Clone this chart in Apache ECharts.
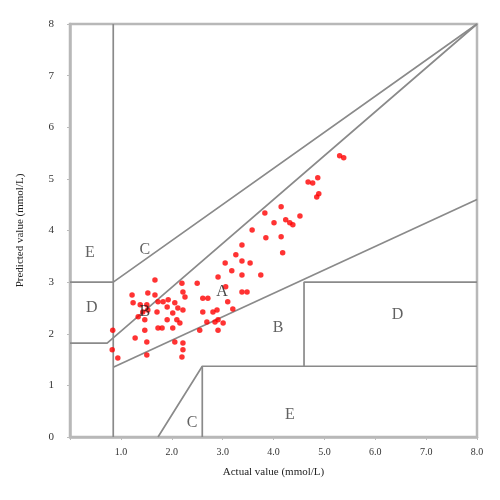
<!DOCTYPE html>
<html>
<head>
<meta charset="utf-8">
<script src="https://cdn.jsdelivr.net/npm/echarts@6/dist/echarts.min.js"></script>
<style>html,body{margin:0;padding:0;background:#fff}#c{width:500px;height:500px}</style>
</head>
<body>
<div id="c"></div>
<script>
// Measured values (mmol/L)
const actual = [5.30,5.38,4.68,4.77,4.87,4.85,4.89,3.83,4.15,4.01,4.24,4.32,4.38,4.52,3.58,3.85,4.15,4.18,3.38,3.26,3.38,3.54,3.05,3.18,3.38,3.75,2.91,3.06,3.38,3.48,3.10,3.20,2.89,2.91,3.01,2.91,2.20,2.50,2.22,2.26,1.83,1.93,2.06,1.91,2.12,2.22,2.02,1.91,2.10,2.16,2.02,1.81,2.61,2.71,2.61,2.81,2.69,2.85,2.55,2.06,2.22,2.22,2.20,1.67,1.22,1.53,1.67,1.24,1.38,1.51,1.73,1.43,1.53,1.71,1.34,1.47,1.73,1.47,0.84,1.28,1.51,0.83,0.94,1.51];
const predicted = [5.45,5.41,4.94,4.92,5.02,4.65,4.71,4.34,4.46,4.15,4.21,4.15,4.11,4.28,4.01,3.86,3.88,3.57,3.72,3.53,3.41,3.37,3.37,3.22,3.14,3.14,3.10,2.91,2.81,2.81,2.62,2.48,2.46,2.27,2.21,2.07,2.98,2.98,2.81,2.71,2.62,2.66,2.60,2.52,2.50,2.46,2.40,2.27,2.27,2.21,2.11,2.11,2.69,2.69,2.42,2.42,2.23,2.23,2.07,1.84,1.82,1.69,1.55,3.04,2.75,2.79,2.75,2.60,2.56,2.56,2.62,2.42,2.46,2.42,2.33,2.27,2.11,2.07,2.07,1.92,1.84,1.69,1.53,1.59];

// Zone boundary polylines (x, y pairs)
const zoneVertical = [[0.85,0],[0.85,8]];
const zoneUpper = [[0,3.0],[0.85,3.0],[8,8]];
const zoneMiddle = [[0,1.82],[0.73,1.82],[8,8]];
const zoneLower = [[0.85,1.35],[8,4.6]];
const zoneLowC = [[1.73,0],[2.6,1.37],[8,1.37]];
const zoneLowCVert = [[2.6,0],[2.6,1.37]];
const zoneDBox = [[4.6,1.37],[4.6,3.0],[8,3.0]];

// Zone labels
const zoneLabelText = ['E','C','D','B','A','B','D','C','E'];
const zoneLabelX = [0.39,1.47,0.43,1.47,2.99,4.09,6.44,2.40,4.32];
const zoneLabelY = [3.57,3.62,2.50,2.42,2.81,2.11,2.36,0.27,0.43];
const zoneLabelDark = [false,false,false,true,true,false,false,false,false];

const xTickLabels = ['', '1.0','2.0','3.0','4.0','5.0','6.0','7.0','8.0'];
const yTickLabels = ['0','1','2','3','4','5','6','7','8'];

const serif = '"Liberation Serif","DejaVu Serif",serif';
const lineColor = '#8a8a8a';

function seg(data){
  return {type:'line', data:data, symbol:'none', silent:true, z:2,
    lineStyle:{color:lineColor, width:1.7}, animation:false};
}

const chart = echarts.init(document.getElementById('c'), null, {renderer:'canvas'});
chart.setOption({
  animation:false,
  backgroundColor:'#fff',
  grid:{left:70, top:24, width:407, height:413, show:true, borderColor:'#b8b8b8', borderWidth:2.5, backgroundColor:'transparent'},
  xAxis:{type:'value', min:0, max:8, interval:1,
    name:'Actual value (mmol/L)', nameLocation:'middle', nameGap:30,
    nameTextStyle:{fontFamily:serif, fontSize:11, color:'#222'},
    axisLine:{show:true, lineStyle:{color:'#b8b8b8', width:2.5}},
    axisTick:{show:true, length:3, lineStyle:{color:'#bbb'}},
    axisLabel:{fontFamily:serif, fontSize:10, color:'#333', margin:10,
      formatter:function(v){return xTickLabels[Math.round(v)];}},
    splitLine:{show:false}},
  yAxis:{type:'value', min:0, max:8, interval:1,
    name:'Predicted value (mmol/L)', nameLocation:'middle', nameGap:44,
    nameTextStyle:{fontFamily:serif, fontSize:11, color:'#222'},
    axisLine:{show:true, lineStyle:{color:'#b8b8b8', width:2.5}},
    axisTick:{show:true, length:3, lineStyle:{color:'#bbb'}},
    axisLabel:{fontFamily:serif, fontSize:11, color:'#333', margin:16,
      formatter:function(v){return yTickLabels[Math.round(v)];}},
    splitLine:{show:false}},
  series:[
    seg(zoneVertical), seg(zoneUpper), seg(zoneMiddle), seg(zoneLower),
    seg(zoneLowC), seg(zoneLowCVert), seg(zoneDBox),
    {type:'scatter', z:3, symbol:'circle', symbolSize:5.5,
      itemStyle:{color:'#ff0000'},
      data: actual.map(function(x,i){return [x, predicted[i]];})},
    {type:'scatter', z:4, symbolSize:0, silent:true,
      data: zoneLabelText.map(function(t,i){return {value:[zoneLabelX[i], zoneLabelY[i]], name:t,
        label:{color: zoneLabelDark[i] ? '#1a1a1a' : '#3a3a3a'}};}),
      label:{show:true, position:'inside', formatter:function(p){return p.name;},
        fontFamily:serif, fontSize:16, color:'#3a3a3a'}}
  ]
});
</script>
</body>
</html>
